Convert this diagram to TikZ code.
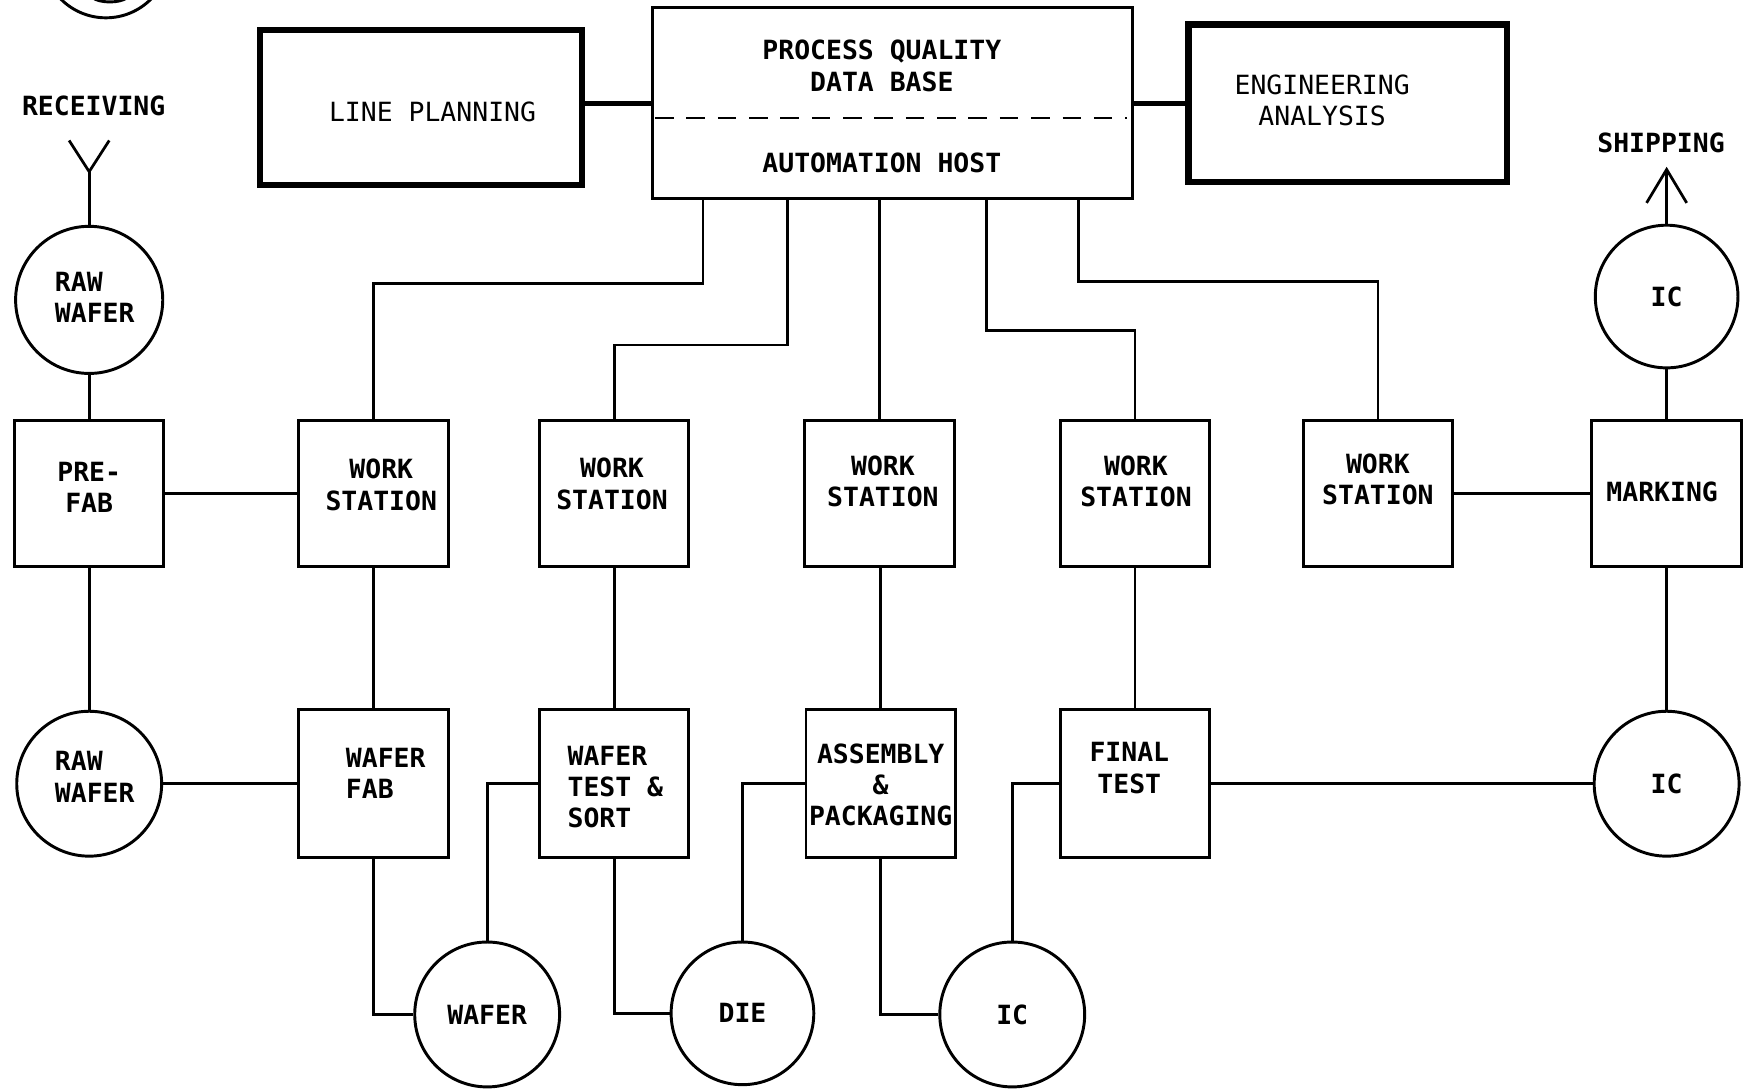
\documentclass[tikz,border=0pt]{standalone}
\usepackage{fontspec}
\newfontfamily\lettering{DejaVu Sans Mono}
\usetikzlibrary{calc}
\begin{document}
\begin{tikzpicture}[x=0.02cm,y=-0.02cm,
  every node/.style={font=\lettering\bfseries\fontsize{13.5}{16}\selectfont, inner sep=0pt},
  lighttext/.style={font=\lettering\fontsize{13.5}{16}\selectfont},
  wire/.style={line width=1.4pt},
  heavywire/.style={line width=2.6pt},
  stationbox/.style={draw, line width=1.5pt, minimum width=2.68cm, minimum height=2.62cm},
  lowbox/.style={draw, line width=1.5pt, minimum width=2.68cm, minimum height=2.66cm},
  heavybox/.style={draw, line width=3.2pt},
  hostbox/.style={draw, line width=1.6pt},
  token/.style={draw, circle, line width=1.5pt, minimum size=2.6cm},
  caption/.style={align=center}
]
\clip (0,0) rectangle (1568,976);
\fill[white] (0,0) rectangle (1568,976);

% circled mark in the upper left corner
\node[draw, circle, line width=1.5pt, minimum size=2.28cm] (mark) at (95,-41) {};
\draw[line width=1.5pt] (83,-2) .. controls (90,3) and (107,3) .. (114,-2);

% planning, host and analysis row
\node[heavybox, minimum width=5.78cm, minimum height=2.78cm] (lp) at (377.5,96.5) {};
\node[caption, lighttext] (lp-t) at (388,100) {LINE PLANNING};
\node[hostbox, minimum width=8.62cm, minimum height=3.42cm] (pq) at (800.5,92.5) {};
\node[caption] (pq-t) at (791,59) {PROCESS QUALITY\\DATA BASE};
\node[caption] (pq-b) at (791,146) {AUTOMATION HOST};
\draw[line width=1.2pt, dash pattern=on 9.5pt off 6.5pt]
  ($(pq.west)+(4,13.5)$) -- ($(pq.east)+(-6,13.5)$);
\node[heavybox, minimum width=5.72cm, minimum height=2.82cm] (eng) at (1209,92.5) {};
\node[caption, lighttext] (eng-t) at (1186,90) {ENGINEERING\\ANALYSIS};
\draw[heavywire] (pq.west) -- (pq.west -| lp.east);
\draw[heavywire] (pq.east) -- (pq.east -| eng.west);

% receiving and shipping
\node (recv-t) at (84,95) {RECEIVING};
\node[token, minimum size=2.64cm] (rw1) at (80,269) {};
\node[align=left] (rw1-t) at (85,267) {RAW\\WAFER};
\coordinate (recv) at (80,154);
\draw[wire] (62,126) -- (recv) -- (98,126);
\draw[wire] (recv) -- (rw1.north);

\node (ship-t) at (1490,128) {SHIPPING};
\node[token, minimum size=2.56cm] (icU) at (1495,266) {IC};
\coordinate (ship) at (1495,152);
\draw[wire] (1477,182) -- (ship) -- (1513,182);
\draw[wire] (icU.north) -- (ship);

% work station row
\node[stationbox] (prefab) at (80,442.5) {};
\node[caption] (prefab-t) at (80,437) {PRE-\\FAB};
\node[stationbox] (ws1) at (335,442.5) {};
\node[caption] (ws1-t) at (342,435) {WORK\\STATION};
\node[stationbox] (ws2) at (551,442.5) {};
\node[caption] (ws2-t) at (549,434) {WORK\\STATION};
\node[stationbox] (ws3) at (789,442.5) {};
\node[caption] (ws3-t) at (792,432) {WORK\\STATION};
\node[stationbox] (ws4) at (1018,442.5) {};
\node[caption] (ws4-t) at (1019,432) {WORK\\STATION};
\node[stationbox] (ws5) at (1236,442.5) {};
\node[caption] (ws5-t) at (1236,430) {WORK\\STATION};
\node[stationbox] (mk) at (1495,442.5) {};
\node[caption] (mk-t) at (1491,441) {MARKING};

% host links down to the work stations
\coordinate (tap1) at ($(pq.south west)+(47,0)$);
\coordinate (tap2) at ($(pq.south west)+(123,0)$);
\coordinate (tap4) at ($(pq.south west)+(301,0)$);
\coordinate (tap5) at ($(pq.south west)+(384,0)$);
\draw[wire] (tap1) -- ++(0,75) -| (ws1.north);
\draw[wire] (tap2) -- ++(0,130) -| (ws2.north);
\draw[wire] (ws3.north) -- (ws3.north |- pq.south);
\draw[wire] (tap4) -- ++(0,117) -| (ws4.north);
\draw[wire] (tap5) -- ++(0,73) -| (ws5.north);

% process row
\node[token] (rw2) at (80,703) {};
\node[align=left] (rw2-t) at (85,697) {RAW\\WAFER};
\node[lowbox] (wfab) at (335,703) {};
\node[align=left] (wfab-t) at (346,694) {WAFER\\FAB};
\node[lowbox] (wts) at (551,703) {};
\node[align=left] (wts-t) at (552,706) {WAFER\\TEST \&\\SORT};
\node[lowbox] (asm) at (790,703) {};
\node[caption] (asm-t) at (790,704) {ASSEMBLY\\\&\\PACKAGING};
\node[lowbox] (ftest) at (1018,703) {};
\node[caption] (ftest-t) at (1013,689) {FINAL\\TEST};
\node[token] (icR) at (1495,703) {IC};

% material tokens
\node[token] (wafer) at (437,910) {WAFER};
\node[token, minimum size=2.56cm] (die) at (666,909) {DIE};
\node[token] (icB) at (908,910) {IC};

% flow connectors
\draw[wire] (rw1.south) -- (prefab.north);
\draw[wire] (prefab.south) -- (rw2.north);
\draw[wire] (prefab.east) -- (ws1.west);
\draw[wire] (ws5.east) -- (mk.west);
\draw[wire] (mk.north) -- (icU.south);
\draw[wire] (mk.south) -- (icR.north);
\draw[wire] (ws1.south) -- (wfab.north);
\draw[wire] (ws2.south) -- (wts.north);
\draw[wire] (asm.north) -- (asm.north |- ws3.south);
\draw[wire] (ws4.south) -- (ftest.north);
\draw[wire] (rw2.east) -- (wfab.west);
\draw[wire] (wfab.south) |- (wafer.west);
\draw[wire] (wafer.north) |- (wts.west);
\draw[wire] (wts.south) |- (die.west);
\draw[wire] (die.north) |- (asm.west);
\draw[wire] (asm.south) |- (icB.west);
\draw[wire] (icB.north) |- (ftest.west);
\draw[wire] (ftest.east) -- (icR.west);
\end{tikzpicture}
\end{document}
